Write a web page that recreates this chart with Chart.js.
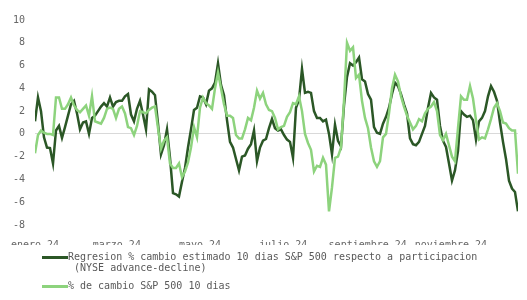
<!DOCTYPE html>
<html>
<head>
<meta charset="utf-8">
<script src="https://cdn.jsdelivr.net/npm/chart.js@4"></script>
<style>
    body { margin: 0; background: #fff; }
    #caja { position: relative; width: 527px; height: 300px; }
    #grafico { position: absolute; left: 0; top: 0; }
    .leyenda { position: absolute; left: 42px; font: 10px "DejaVu Sans Mono", monospace; color: #595959; line-height: 11px; }
    .leyenda .muestra { position: absolute; left: 0; width: 26px; height: 3px; }
    .leyenda .texto { position: absolute; left: 26px; white-space: nowrap; }
</style>
</head>
<body>
<div id="caja">
    <canvas id="grafico" width="527" height="300"></canvas>
    <div class="leyenda" style="top:251px">
        <span class="muestra" style="top:5px;background:#2b5726"></span>
        <span class="texto">Regresion % cambio estimado 10 dias S&amp;P 500 respecto a participacion<br>&nbsp;(NYSE advance-decline)</span>
    </div>
    <div class="leyenda" style="top:280px">
        <span class="muestra" style="top:5px;background:#8dd37d"></span>
        <span class="texto">% de cambio S&amp;P 500 10 dias</span>
    </div>
</div>
<script>
// datos (una observacion cada 2.2 dias desde el 1 de enero)
const pasoDias = 2.2;

const serieRegresion = [
    1.1, 3.2, 2.0, -0.3, -1.2, -1.25, -2.6, 0.3, 0.7, -0.35,
    0.6, 1.6, 2.6, 2.9, 1.8, 0.4, 1.0, 1.1, 0, 1.4,
    1.6, 2.0, 2.4, 2.7, 2.4, 3.2, 2.4, 2.8, 2.9, 2.9,
    3.3, 3.5, 1.7, 1.1, 2.2, 2.9, 1.7, 0.4, 3.9, 3.7,
    3.4, 0.9, -1.8, -1.0, 0.4, -2.1, -5.2, -5.3, -5.5, -4.2,
    -3.0, -1.2, 0.4, 2.1, 2.3, 3.3, 3.2, 2.6, 3.8, 4.0,
    4.5, 6.2, 4.3, 3.4, 1.2, -0.7, -1.2, -2.2, -3.2, -2.0,
    -1.9, -1.3, -0.9, 0.3, -2.4, -1.2, -0.6, -0.45, 0.5, 1.3,
    0.5, 0.3, 0.4, -0.1, -0.5, -0.7, -2.1, 2.3, 3.0, 5.7,
    3.6, 3.7, 3.6, 2.0, 1.4, 1.4, 1.1, 1.25, 0, -1.8,
    0.8, -0.6, -1.1, 2.5, 5.0, 6.2, 6.0, 6.3, 6.7, 4.8,
    4.6, 3.5, 3.0, 0.6, 0.1, 0, 0.9, 1.5, 2.3, 3.5,
    4.5, 4.2, 3.5, 2.6, 1.8, -0.4, -0.9, -1.0, -0.7, 0,
    0.7, 2.3, 3.6, 3.2, 3.0, 0.7, -0.6, -1.15, -2.6, -4.1,
    -3.2, -1.5, 2.0, 1.7, 1.5, 1.6, 1.2, -0.5, 1.1, 1.4,
    2.0, 3.3, 4.2, 3.7, 2.9, 1.0, -0.7, -2.2, -4.1, -4.8,
    -5.1, -6.8
];

const serieCambio = [
    -1.7, -0.1, 0.3, 0.1, 0, 0, -0.1, 3.2, 3.2, 2.2,
    2.2, 2.6, 3.2, 2.5, 2.1, 1.9, 2.2, 2.5, 1.6, 3.3,
    1.1, 1.0, 0.9, 1.4, 2.2, 2.3, 2.2, 1.4, 2.2, 2.4,
    1.8, 0.6, 0.5, -0.1, 0.7, 2.0, 1.9, 1.8, 2.1, 2.3,
    2.4, 0.5, -1.3, -0.6, -0.3, -2.6, -3.0, -3.0, -2.6, -3.8,
    -3.3, -2.5, -1.2, 0.6, -0.3, 2.3, 3.2, 2.7, 2.5, 2.2,
    4.0, 5.4, 4.0, 2.6, 1.6, 1.6, 1.4, -0.1, -0.4, -0.4,
    0.4, 1.4, 1.2, 2.3, 3.8, 3.1, 3.6, 2.6, 2.1, 2.0,
    1.4, 0.4, 0.6, 0.7, 1.5, 1.9, 2.7, 2.6, 3.3, 2.0,
    0.0, -0.8, -1.4, -3.3, -2.8, -2.9, -2.1, -2.7, -6.8, -4.7,
    -2.1, -2.0, -1.2, 2.9, 8.0, 7.3, 7.6, 4.9, 5.2, 2.9,
    1.4, 0.5, -1.2, -2.4, -2.9, -2.4, -0.3, 0, 1.8, 4.0,
    5.2, 4.6, 3.3, 2.4, 1.6, 1.0, 0.4, 0.7, 1.3, 1.1,
    1.8, 2.2, 2.4, 2.8, 2.0, -0.1, -0.55, 0, -1.0, -2.0,
    -2.4, 0.5, 3.3, 3.0, 3.0, 4.2, 3.1, 1.2, -0.5, -0.3,
    -0.4, 0.4, 1.3, 2.3, 2.7, 2.0, 1.0, 0.9, 0.5, 0.3,
    0.3, -3.5
];

// marcas del eje x (dias desde el 1 de enero)
const diasMes = [0, 60, 121, 182, 244, 305];
const etiquetasMes = ['enero-24', 'marzo-24', 'mayo-24', 'julio-24', 'septiembre-24', 'noviembre-24'];

// marcas del eje y
const ticksY = [-8, -6, -4, -2, 0, 2, 4, 6, 8, 10];

const aPuntos = serie => serie.map((v, i) => ({ x: i * pasoDias, y: v }));

const ctx = document.getElementById('grafico').getContext('2d');
const grafico = new Chart(ctx, {
    type: 'line',
    data: {
        datasets: [{
            label: 'Regresion % cambio estimado 10 dias S&P 500 respecto a participacion (NYSE advance-decline)',
            data: aPuntos(serieRegresion),
            borderColor: '#2b5726',
            borderWidth: 2.5,
            pointRadius: 0,
            tension: 0,
            order: 2
        }, {
            label: '% de cambio S&P 500 10 dias',
            data: aPuntos(serieCambio),
            borderColor: '#8dd37d',
            borderWidth: 2.5,
            pointRadius: 0,
            tension: 0,
            order: 1
        }]
    },
    options: {
        responsive: false,
        animation: false,
        // el espacio de abajo queda para la leyenda en html
        layout: {
            padding: { top: 20, right: 9, bottom: 55, left: 0 }
        },
        plugins: {
            legend: { display: false },
            tooltip: { enabled: false }
        },
        scales: {
            x: {
                type: 'linear',
                min: 0,
                max: (serieRegresion.length - 1) * pasoDias,
                grid: { display: false },
                border: { display: false },
                afterBuildTicks: axis => {
                    axis.ticks = diasMes.map(v => ({ value: v }));
                },
                afterFit: axis => { axis.height = 20; },
                ticks: {
                    autoSkip: false,
                    maxRotation: 0,
                    padding: 6,
                    color: '#666',
                    font: { family: 'DejaVu Sans Mono', size: 10 },
                    callback: value => etiquetasMes[diasMes.indexOf(value)]
                }
            },
            y: {
                min: -8,
                max: 10,
                afterBuildTicks: axis => {
                    axis.ticks = ticksY.map(v => ({ value: v }));
                },
                afterFit: axis => { axis.width = 35; },
                grid: {
                    drawTicks: false,
                    color: c => c.tick && c.tick.value === 0 ? '#d9d9d9' : 'rgba(0,0,0,0)'
                },
                border: { display: false },
                ticks: {
                    padding: 10,
                    color: '#666',
                    font: { family: 'DejaVu Sans Mono', size: 10 }
                }
            }
        }
    }
});
</script>
</body>
</html>
